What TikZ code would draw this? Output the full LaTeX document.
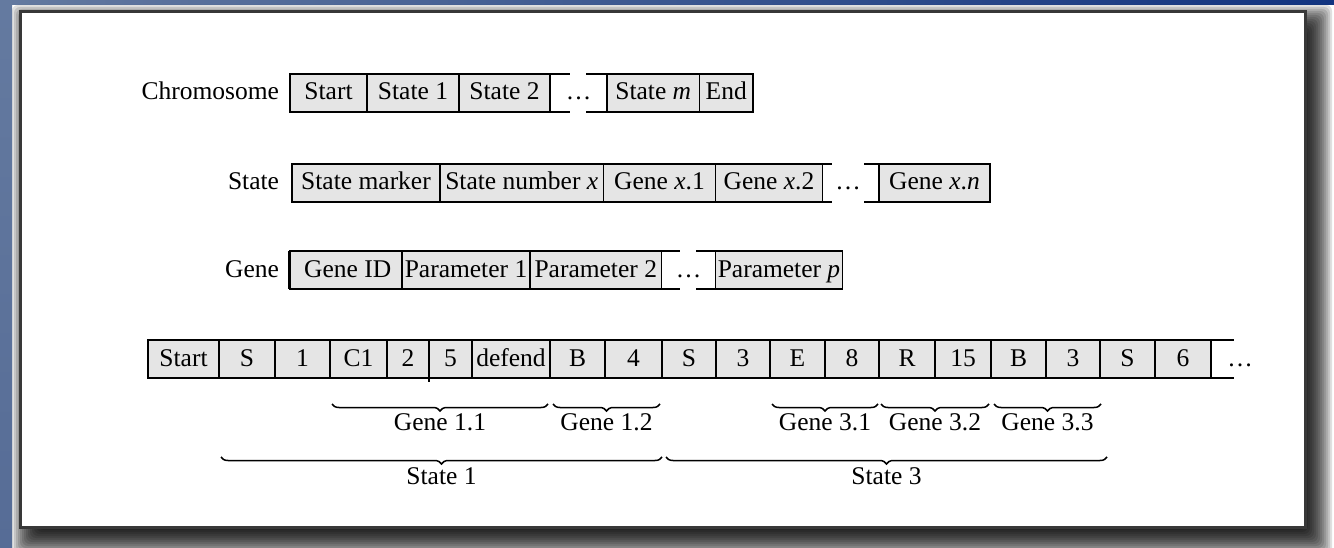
\documentclass[tikz,border=0pt]{standalone}
\usepackage{fontspec}
\setmainfont{Liberation Serif}
\usetikzlibrary{decorations.pathreplacing,calc}
\definecolor{bandL}{RGB}{100,122,160}
\definecolor{bandR}{RGB}{18,52,128}
\definecolor{strip}{RGB}{86,108,150}
\definecolor{cellgray}{RGB}{229,229,229}
\begin{document}
\begin{tikzpicture}[x=1pt,y=-1pt,
  txt/.style={font=\fontsize{25.5}{29}\selectfont, text height=18pt, text depth=4pt, inner sep=0pt, outer sep=0pt},
  cell/.style={txt, draw=black, fill=cellgray, line width=1.5pt, minimum height=38pt, anchor=west},
  lbl/.style={txt, anchor=east},
  dotsn/.style={txt},
  openline/.style={line width=1.5pt},
  thickedge/.style={line width=2.6pt},
  brc/.style={decorate, decoration={brace, mirror, amplitude=7pt}, line width=1.5pt},
  brlbl/.style={txt}
]
\useasboundingbox (0,0) rectangle (1334,548);
\clip (0,0) rectangle (1334,548);
% background
\fill[white] (0,0) rectangle (1334,548);
\shade[left color=bandL, right color=bandR] (0,0) rectangle (1334,5);
\shade[top color=bandL, bottom color=strip] (0,0) rectangle (12,548);
% shadow
\foreach \e in {0,2,...,30}{
  \fill[black, opacity=0.12, rounded corners=6pt] (12+\e,5+\e) rectangle (1332-\e,556-\e);
}
% frame
\draw[line width=3pt, draw=black!78, fill=white] (20,11.5) rectangle (1305.5,527.5);

% Row 1: Chromosome
\node[lbl] (la) at (279,93) {Chromosome};
\node[cell, minimum width=77pt] (a1) at (290,93) {Start};
\node[cell, minimum width=92pt] (a2) at (a1.east) {State 1};
\node[cell, minimum width=91pt] (a3) at (a2.east) {State 2};
\node[cell, minimum width=92.5pt] (a4) at (607,93) {State \textit{m}};
\node[cell, minimum width=53.5pt] (a5) at (a4.east) {End};
\node[dotsn] (ad) at (578.5,93) {\ldots};
\draw[openline] (a3.north east) -- ++(19.5,0);
\draw[openline] (a3.south east) -- ++(19.5,0);
\draw[openline] (a4.north west) -- ++(-21,0);
\draw[openline] (a4.south west) -- ++(-21,0);
\draw[thickedge] (a1.north west) -- (a1.south west);

% Row 2: State
\node[lbl] (lb) at (279,183) {State};
\node[cell, minimum width=148pt] (b1) at (292,183) {State marker};
\node[cell, minimum width=163.5pt] (b2) at (b1.east) {State number \textit{x}};
\node[cell, minimum width=112pt] (b3) at (b2.east) {Gene \textit{x}.1};
\node[cell, minimum width=107pt] (b4) at (b3.east) {Gene \textit{x}.2};
\node[cell, minimum width=111pt] (b5) at (879,183) {Gene \textit{x}.\textit{n}};
\node[dotsn] (bd) at (848,183) {\ldots};
\draw[openline] (b4.north east) -- ++(9,0);
\draw[openline] (b4.south east) -- ++(9,0);
\draw[openline] (b5.north west) -- ++(-15,0);
\draw[openline] (b5.south west) -- ++(-15,0);
\draw[thickedge] (b1.north west) -- (b1.south west);

% Row 3: Gene
\node[lbl] (lc) at (279,270) {Gene};
\node[cell, minimum width=112.5pt] (c1) at (289.5,270) {\hspace*{4pt}Gene ID};
\node[cell, minimum width=128pt] (c2) at (c1.east) {Parameter 1};
\node[cell, minimum width=131.5pt] (c3) at (c2.east) {Parameter 2};
\node[cell, minimum width=127pt] (c4) at (715.5,270) {Parameter \textit{p}};
\node[dotsn] (cd) at (688.5,270) {\ldots};
\draw[openline] (c3.north east) -- ++(18,0);
\draw[openline] (c3.south east) -- ++(18,0);
\draw[openline] (c4.north west) -- ++(-19.5,0);
\draw[openline] (c4.south west) -- ++(-19.5,0);
\draw[thickedge] (c1.north west) -- (c1.south west);

% Row 4: example chromosome
\node[cell, minimum width=71pt] (d1) at (148,359) {Start};
\node[cell, minimum width=56pt] (d2) at (d1.east) {S};
\node[cell, minimum width=55pt] (d3) at (d2.east) {1};
\node[cell, minimum width=57pt] (d4) at (d3.east) {C1};
\node[cell, minimum width=42pt] (d5) at (d4.east) {2};
\node[cell, minimum width=43pt] (d6) at (d5.east) {5};
\node[cell, minimum width=78pt] (d7) at (d6.east) {defend};
\node[cell, minimum width=55pt] (d8) at (d7.east) {B};
\node[cell, minimum width=57pt] (d9) at (d8.east) {4};
\node[cell, minimum width=54pt] (d10) at (d9.east) {S};
\node[cell, minimum width=54pt] (d11) at (d10.east) {3};
\node[cell, minimum width=55pt] (d12) at (d11.east) {E};
\node[cell, minimum width=54pt] (d13) at (d12.east) {8};
\node[cell, minimum width=56pt] (d14) at (d13.east) {R};
\node[cell, minimum width=56pt] (d15) at (d14.east) {15};
\node[cell, minimum width=55pt] (d16) at (d15.east) {B};
\node[cell, minimum width=54pt] (d17) at (d16.east) {3};
\node[cell, minimum width=55pt] (d18) at (d17.east) {S};
\node[cell, minimum width=56pt] (d19) at (d18.east) {6};
\node[dotsn] (dd) at (1240,359) {\ldots};
\draw[openline] (d19.north east) -- ++(23,0);
\draw[openline] (d19.south east) -- ++(23,0);
\draw[thickedge] (d1.north west) -- (d1.south west);
\draw[line width=1.5pt] (d6.south west) -- ++(0,4);

% Gene braces
\draw[brc] ([shift={(2,26)}]d4.south west) -- ([shift={(-2,26)}]d7.south east)
  node[brlbl, midway, yshift=-19pt] (g11) {Gene 1.1};
\draw[brc] ([shift={(3,26)}]d8.south west) -- ([shift={(-2,26)}]d9.south east)
  node[brlbl, midway, yshift=-19pt] (g12) {Gene 1.2};
\draw[brc] ([shift={(2,26)}]d12.south west) -- ([shift={(-1,26)}]d13.south east)
  node[brlbl, midway, yshift=-19pt] (g31) {Gene 3.1};
\draw[brc] ([shift={(2,26)}]d14.south west) -- ([shift={(-2,26)}]d15.south east)
  node[brlbl, midway, yshift=-19pt] (g32) {Gene 3.2};
\draw[brc] ([shift={(3,26)}]d16.south west) -- ([shift={(1,26)}]d17.south east)
  node[brlbl, midway, yshift=-19pt] (g33) {Gene 3.3};
% State braces
\draw[brc] ([shift={(2,79)}]d2.south west) -- ([shift={(0,79)}]d9.south east)
  node[brlbl, midway, yshift=-20pt] (s1) {State 1};
\draw[brc] ([shift={(4,79)}]d10.south west) -- ([shift={(7,79)}]d17.south east)
  node[brlbl, midway, yshift=-20pt] (s3) {State 3};
\end{tikzpicture}
\end{document}
